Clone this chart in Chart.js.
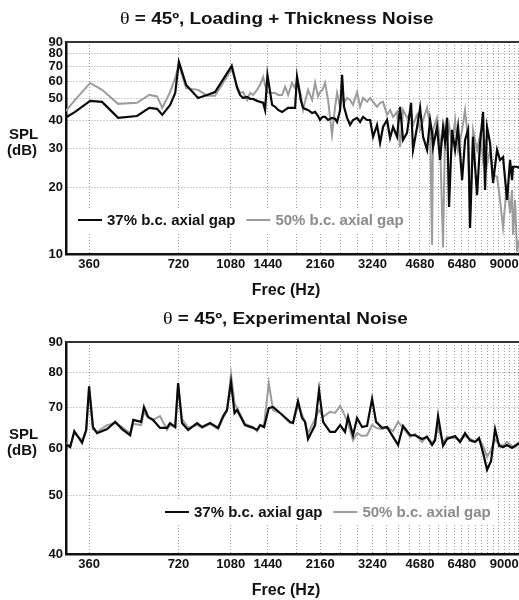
<!DOCTYPE html>
<html>
<head>
<meta charset="utf-8">
<title>SPL spectra, theta = 45</title>
<script src="https://cdn.jsdelivr.net/npm/chart.js@4.4.1/dist/chart.umd.min.js"></script>
<style>
    html, body { margin: 0; padding: 0; background: #fff; overflow: hidden; }
    canvas { display: block; }
</style>
</head>
<body>
<canvas id="chartLoading" width="540" height="300"></canvas>
<canvas id="chartExperimental" width="540" height="300"></canvas>
<script>
// --- data (Hz / dB) ---

var topFreq = [299, 323, 363, 398, 451, 522, 574, 610, 635, 675,
    702, 722, 764, 838, 899, 956, 1088, 1134, 1160, 1188,
    1226, 1255, 1284, 1324, 1356, 1388, 1409, 1435, 1488, 1523,
    1559, 1608, 1646, 1685, 1737, 1778, 1805, 1860, 1892, 1921,
    1966, 2029, 2076, 2125, 2158, 2199, 2244, 2296, 2368, 2425,
    2463, 2521, 2560, 2599, 2661, 2724, 2787, 2875, 2943, 3012,
    3107, 3182, 3255, 3357, 3437, 3517, 3628, 3714, 3801, 3919,
    4013, 4107, 4236, 4370, 4437, 4579, 4687, 4798, 4947, 5064,
    5143, 5182, 5344, 5470, 5601, 5688, 5777, 5867, 6006, 6147,
    6291, 6491, 6643, 6799, 6904, 7066, 7290, 7462, 7639, 7756,
    7877, 8063, 8252, 8512, 8712, 8918, 9198, 9415, 9561, 9636,
    9786, 9940, 10093];

var topGap37 = [41.0, 43.6, 48.9, 48.4, 41.0, 41.8, 45.5, 45.0, 42.3, 46.9,
    53.1, 73.3, 57.7, 50.4, 52.0, 53.6, 70.3, 56.0, 52.0, 50.4,
    50.9, 49.9, 49.9, 48.9, 48.4, 48.0, 44.5, 64.0, 46.9, 46.0,
    44.5, 43.6, 44.5, 45.5, 45.5, 45.5, 62.7, 49.0, 45.5, 45.0,
    44.5, 43.1, 43.6, 41.8, 40.1, 41.4, 41.4, 40.1, 41.0, 40.6,
    39.3, 44.5, 64.0, 46.0, 41.0, 38.1, 40.1, 41.0, 39.3, 41.4,
    40.1, 40.1, 33.7, 38.1, 31.6, 37.3, 40.1, 33.3, 37.3, 33.7,
    45.9, 32.6, 35.1, 47.9, 29.4, 37.3, 45.5, 33.7, 29.4, 40.1,
    35.0, 30.3, 37.3, 26.5, 37.3, 32.0, 41.0, 16.3, 36.2, 29.4,
    37.3, 21.5, 32.6, 36.2, 13.1, 33.7, 18.4, 31.6, 43.6, 19.4,
    37.3, 31.6, 20.9, 29.4, 26.5, 27.3, 17.5, 26.5, 21.5, 24.7,
    24.7, 24.7, 24.4];

var topGap50 = [43.7, 49.4, 58.9, 54.8, 47.4, 47.9, 52.0, 51.2, 45.5, 53.6,
    62.0, 71.0, 55.8, 54.8, 51.6, 51.6, 68.0, 57.0, 53.1, 53.6,
    49.4, 53.1, 52.0, 54.8, 57.7, 62.7, 57.7, 53.6, 53.1, 53.1,
    52.0, 52.0, 56.5, 52.0, 59.0, 55.8, 62.0, 52.0, 44.5, 48.4,
    54.8, 49.4, 59.0, 51.2, 53.6, 54.8, 59.0, 49.4, 34.4, 45.9,
    53.1, 45.5, 52.0, 47.9, 50.4, 49.4, 46.9, 53.6, 45.9, 50.4,
    48.4, 50.4, 48.4, 45.9, 47.9, 48.4, 42.3, 44.5, 41.4, 43.6,
    30.3, 44.5, 41.0, 43.6, 38.1, 42.3, 36.2, 40.1, 45.5, 38.1,
    11.0, 36.2, 41.0, 32.6, 10.7, 36.2, 32.6, 38.1, 31.0, 40.1,
    29.4, 36.2, 44.5, 32.6, 15.3, 36.2, 29.4, 34.4, 26.5, 32.6,
    25.2, 29.4, 22.7, 22.3, 17.5, 13.2, 20.5, 15.3, 19.4, 12.2,
    17.5, 10.2, 11.6];

var expFreq = [299, 311, 321, 341, 352, 360, 371, 383, 414, 441,
    465, 495, 507, 539, 551, 569, 591, 624, 659, 674,
    702, 718, 740, 776, 832, 865, 920, 979, 1018, 1049,
    1082, 1112, 1134, 1206, 1284, 1324, 1356, 1398, 1450, 1499,
    1583, 1710, 1750, 1819, 1877, 1921, 1966, 2076, 2141, 2209,
    2332, 2425, 2521, 2619, 2681, 2787, 2875, 2989, 3107, 3230,
    3332, 3490, 3628, 3801, 3952, 4107, 4337, 4508, 4759, 4945,
    5143, 5263, 5388, 5601, 5777, 6147, 6390, 6642, 6904, 7177,
    7404, 7639, 7879, 8127, 8383, 8645, 8918, 9198, 9561, 9786,
    10093];

var expGap37 = [60.9, 60.2, 64.0, 61.2, 64.3, 76.0, 65.0, 63.5, 64.5, 66.3,
    64.5, 63.0, 66.8, 66.3, 70.2, 67.6, 66.8, 64.8, 64.8, 66.0,
    65.0, 76.9, 66.0, 64.3, 66.0, 65.0, 66.0, 64.8, 67.8, 69.4,
    77.2, 68.6, 69.4, 65.5, 64.8, 64.3, 65.5, 65.0, 69.9, 70.2,
    68.6, 66.3, 66.0, 71.8, 67.3, 66.3, 62.1, 65.5, 74.9, 66.3,
    63.8, 63.8, 65.5, 63.8, 67.6, 63.0, 67.3, 65.0, 65.3, 72.4,
    66.3, 64.8, 65.0, 62.6, 60.7, 65.3, 63.0, 63.0, 62.1, 62.6,
    60.7, 61.8, 67.8, 60.5, 62.1, 62.8, 61.4, 63.5, 61.8, 61.4,
    62.3, 58.9, 55.2, 57.1, 64.5, 60.5, 60.2, 60.7, 60.0, 60.5,
    61.2];

var expGap50 = [61.2, 60.5, 63.5, 61.8, 64.0, 75.0, 64.5, 63.8, 65.5, 66.0,
    65.0, 63.5, 65.8, 65.5, 68.9, 67.3, 66.8, 67.8, 64.3, 65.5,
    65.0, 76.0, 67.0, 64.8, 65.5, 64.8, 65.8, 64.5, 67.3, 69.0,
    79.6, 71.0, 70.0, 65.8, 65.0, 64.0, 65.3, 65.5, 76.9, 69.4,
    68.6, 66.0, 66.3, 70.5, 68.1, 66.3, 63.5, 67.0, 69.4, 67.6,
    68.9, 68.6, 70.5, 67.8, 66.0, 61.8, 63.5, 62.8, 63.0, 65.5,
    64.8, 64.5, 65.0, 64.0, 66.3, 64.8, 62.6, 63.3, 61.4, 62.8,
    61.2, 62.1, 65.0, 61.2, 62.6, 62.3, 61.8, 62.8, 62.1, 61.6,
    62.1, 60.5, 58.0, 59.5, 62.0, 60.9, 60.5, 61.4, 60.5, 60.2,
    60.9];

// vertical grid at every 360 Hz harmonic, labels only on some
var harmonicGrid = [360, 720, 1080, 1440, 1800, 2160, 2520, 2880, 3240, 3600,
    3960, 4320, 4680, 5040, 5400, 5760, 6120, 6480, 6840, 7200,
    7560, 7920, 8280, 8640, 9000, 9360, 9720, 10080, 10440, 10800];
var xTickLabels = [360, 720, 1080, 1440, 2160, 3240, 4680, 6480, 9000];
var topYTicks = [10, 20, 30, 40, 50, 60, 70, 80, 90];
var expYTicks = [40, 50, 60, 70, 80, 90];

var seriesLabels = ['37% b.c. axial gap', '50% b.c. axial gap'];
var seriesColors = ['#0a0a0a', '#9c9c9c'];

Chart.defaults.font.family = '"Liberation Sans", Arial, sans-serif';
Chart.defaults.color = '#111';

var SANS = '"Liberation Sans", Arial, sans-serif';

// title, axis words, legend box and top frame line
var frameLabels = {
    id: 'frameLabels',
    afterDraw: function(chart, args, opts) {
        var ctx = chart.ctx;
        var area = chart.chartArea;
        ctx.save();

        ctx.strokeStyle = '#333';
        ctx.lineWidth = 2;
        ctx.beginPath();
        ctx.moveTo(area.left, area.top);
        ctx.lineTo(area.right, area.top);
        ctx.stroke();

        ctx.fillStyle = '#111';
        ctx.textBaseline = 'middle';
        ctx.textAlign = 'left';

        // title (the original lettering is a little wide)
        ctx.save();
        ctx.translate(opts.titleX, 20);
        ctx.scale(1.18, 1);
        ctx.font = '17px "Liberation Serif", serif';
        ctx.fillText(opts.title.charAt(0), 0, 0);
        var thetaW = ctx.measureText(opts.title.charAt(0)).width;
        ctx.font = 'bold 16px ' + SANS;
        ctx.fillText(opts.title.slice(1), thetaW, 0);
        ctx.restore();

        ctx.font = 'bold 15px ' + SANS;
        ctx.fillText('SPL', 9, 135);
        ctx.fillText('(dB)', 7, 151);

        ctx.font = 'bold 16px ' + SANS;
        ctx.textAlign = 'center';
        ctx.fillText('Frec (Hz)', 286, 291);

        // legend
        ctx.font = 'bold 15px ' + SANS;
        ctx.textAlign = 'left';
        var datasets = chart.data.datasets;
        var x = opts.legendX;
        var y = opts.legendY;
        var total = 0;
        datasets.forEach(function(ds) {
            total += 29 + ctx.measureText(ds.label).width + 11;
        });
        ctx.fillStyle = '#fff';
        ctx.fillRect(x - 6, y - 12, total, 24);
        datasets.forEach(function(ds) {
            ctx.strokeStyle = ds.borderColor;
            ctx.lineWidth = 2;
            ctx.beginPath();
            ctx.moveTo(x, y);
            ctx.lineTo(x + 24, y);
            ctx.stroke();
            ctx.fillStyle = ds.borderColor === seriesColors[1] ? '#8c8c8c' : '#111';
            ctx.fillText(ds.label, x + 29, y + 1);
            x += 29 + ctx.measureText(ds.label).width + 11;
        });

        ctx.restore();
    }
};

function toPoints(freqs, values) {
    return freqs.map(function(f, i) {
        return {x: f, y: values[i]};
    });
}

function makeChart(canvasId, freqs, gap37, gap50, yMin, yTicks, title, titleX, legendX, legendY) {
    return new Chart(document.getElementById(canvasId), {
        type: 'line',
        data: {
            datasets: [
                {
                    label: seriesLabels[0],
                    data: toPoints(freqs, gap37),
                    borderColor: seriesColors[0],
                    borderWidth: 2.2,
                    pointRadius: 0,
                    tension: 0
                },{
                    label: seriesLabels[1],
                    data: toPoints(freqs, gap50),
                    borderColor: seriesColors[1],
                    borderWidth: 2,
                    pointRadius: 0,
                    tension: 0
                }
            ]
        },
        options: {
            responsive: false,
            animation: false,
            events: [],
            layout: {
                padding: { top: 42, right: 10, bottom: 0, left: 0 }
            },
            plugins: {
                legend: { display: false },
                tooltip: { enabled: false },
                title: { display: false },
                frameLabels: {
                    title: title,
                    titleX: titleX,
                    legendX: legendX,
                    legendY: legendY
                }
            },
            scales: {
                x: {
                    type: 'logarithmic',
                    min: 301,
                    max: 10990,
                    afterBuildTicks: function(axis) {
                        axis.ticks = harmonicGrid.map(function(v) { return {value: v}; });
                    },
                    afterFit: function(axis) { axis.height = 46; },
                    ticks: {
                        autoSkip: false,
                        maxRotation: 0,
                        minRotation: 0,
                        padding: 3,
                        color: '#111',
                        font: { size: 13, weight: 'bold' },
                        callback: function(value) {
                            return xTickLabels.indexOf(value) >= 0 ? String(value) : '';
                        }
                    },
                    grid: { color: 'rgba(0,0,0,0.38)', lineWidth: 1, drawTicks: false },
                    border: { color: '#111', width: 2.5, dash: [1, 2] }
                },
                y: {
                    type: 'logarithmic',
                    min: yMin,
                    max: 90,
                    afterBuildTicks: function(axis) {
                        axis.ticks = yTicks.map(function(v) { return {value: v}; });
                    },
                    afterFit: function(axis) { axis.width = 66; },
                    ticks: {
                        padding: 3,
                        color: '#111',
                        font: { size: 13, weight: 'bold' },
                        callback: function(value) { return String(value); }
                    },
                    grid: { color: 'rgba(0,0,0,0.38)', lineWidth: 1, drawTicks: false },
                    border: { color: '#111', width: 2.5, dash: [1, 2] }
                }
            }
        },
        plugins: [frameLabels]
    });
}

var loadingChart = makeChart('chartLoading', topFreq, topGap37, topGap50, 10, topYTicks,
    'θ = 45º, Loading + Thickness Noise', 120, 78, 220);
var experimentalChart = makeChart('chartExperimental', expFreq, expGap37, expGap50, 40, expYTicks,
    'θ = 45º, Experimental Noise', 163, 165, 212);
</script>
</body>
</html>
